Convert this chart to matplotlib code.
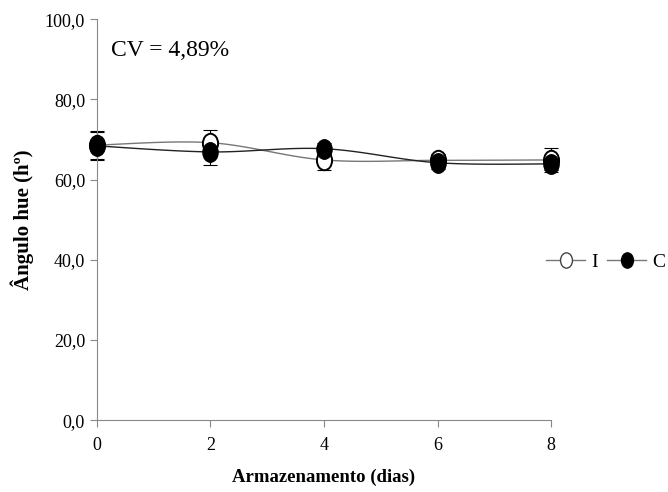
import numpy as np
import matplotlib
matplotlib.use("Agg")
import matplotlib.pyplot as plt
from matplotlib.path import Path

plt.rcParams['font.family'] = ['Liberation Serif', 'DejaVu Serif']

dias = [0, 2, 4, 6, 8]
hue_i = [68.6, 69.2, 64.9, 64.8, 64.9]
hue_c = [68.4, 66.9, 67.7, 64.2, 63.9]
err_i = [3.5, 3.2, 2.5, 1.5, 3.0]
err_c = [3.5, 3.2, 1.5, 1.5, 1.5]
yticks = [0, 20, 40, 60, 80, 100]


def smooth(x, y, n=30):
    # Catmull-Rom path through the points, like Excel's smoothed lines
    x = np.asarray(x, float)
    y = np.asarray(y, float)
    px = np.concatenate([[x[0]], x, [x[-1]]])
    py = np.concatenate([[y[0]], y, [y[-1]]])
    xs, ys = [], []
    t = np.linspace(0, 1, n)
    for i in range(1, len(px) - 2):
        for p, out in ((px, xs), (py, ys)):
            p0, p1, p2, p3 = p[i - 1], p[i], p[i + 1], p[i + 2]
            out.extend(0.5 * (2 * p1 + (-p0 + p2) * t
                              + (2 * p0 - 5 * p1 + 4 * p2 - p3) * t ** 2
                              + (-p0 + 3 * p1 - 3 * p2 + p3) * t ** 3))
    return xs, ys


# slightly tall oval marker (the original image is squeezed sideways)
circ = Path.unit_circle()
oval = Path(circ.vertices * [0.78, 1.0], circ.codes)

fig = plt.figure(figsize=(6.68, 4.92), dpi=100)
ax = fig.add_axes([0.145, 0.146, 0.68, 0.815])

sx, sy = smooth(dias, hue_i)
ax.plot(sx, sy, color='#777777', lw=1.0, clip_on=False)
sx, sy = smooth(dias, hue_c)
ax.plot(sx, sy, color='#222222', lw=1.0, clip_on=False)

ax.errorbar(dias, hue_i, yerr=err_i, fmt='none', ecolor='black', elinewidth=0.8,
            capsize=5, capthick=0.8, clip_on=False)
ax.errorbar(dias, hue_c, yerr=err_c, fmt='none', ecolor='black', elinewidth=0.8,
            capsize=5, capthick=0.8, clip_on=False)
ax.plot(dias, hue_i, ls='none', marker=oval, ms=14, mfc='white', mec='black', mew=1.4,
        clip_on=False, zorder=3)
ax.plot(dias, hue_c, ls='none', marker=oval, ms=14, mfc='black', mec='black',
        clip_on=False, zorder=4)

# legend handles
li, = ax.plot([], [], '-', marker=oval, color='#777777', ms=11, mfc='white', mec='#444444', lw=1)
lc, = ax.plot([], [], '-', marker=oval, color='#777777', ms=11, mfc='black', mec='black', lw=1)
fig.legend([li, lc], ['I', 'C'], loc='center left', bbox_to_anchor=(0.818, 0.467),
           ncol=2, frameon=False, fontsize=14, handlelength=2.0, handletextpad=0.3,
           columnspacing=0.5, borderpad=0, borderaxespad=0)

ax.set_xlim(0, 8)
ax.set_ylim(0, 100)
ax.set_xticks(dias)
ax.set_yticks(yticks)
ax.set_yticklabels([('%.1f' % v).replace('.', ',') for v in yticks])
ax.tick_params(labelsize=13, color='#888888', length=5, width=0.8)
ax.tick_params(axis='x', pad=7)
for s in ['top', 'right']:
    ax.spines[s].set_visible(False)
for s in ['left', 'bottom']:
    ax.spines[s].set_color('#888888')
    ax.spines[s].set_linewidth(0.8)

ax.set_xlabel('Armazenamento (dias)', fontsize=13.5, fontweight='bold', labelpad=11)
ax.set_ylabel('Ângulo hue (hº)', fontsize=15, fontweight='bold', labelpad=8)
ax.text(0.25, 92.3, 'CV = 4,89%', fontsize=17, va='center')

fig.savefig('out.png', dpi=100)
